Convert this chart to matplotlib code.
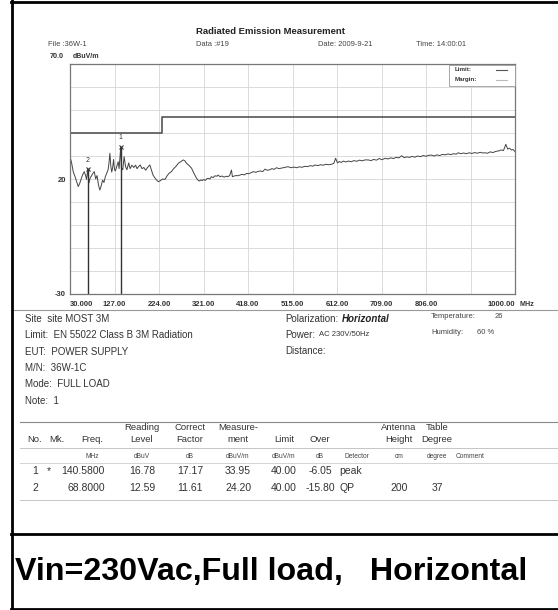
import matplotlib
matplotlib.use("Agg")
import matplotlib.pyplot as plt

plt.rcParams["font.family"] = ["Liberation Sans", "DejaVu Sans"]

W, H = 558, 610

# spectrum trace (MHz, dBuV/m)
freq = [30, 33, 37, 41, 45, 48, 51, 55, 58, 61, 64, 66, 68.8, 70, 71.5, 74, 77, 80, 83, 86,
        89, 92, 95, 98, 101, 104, 107, 110, 113, 115, 117, 119, 121, 123, 125, 127, 129, 132,
        135, 137, 140.58, 142, 145, 148, 151, 154, 158, 161, 165, 169, 173, 176, 180, 183, 187,
        191, 195, 199, 204, 208, 211, 215, 219, 222.5, 227, 232, 237, 242, 246, 251, 256, 261,
        266, 271, 277, 281, 284, 289, 295, 300, 306, 309, 312, 315, 318, 321, 325, 328, 331,
        335, 338, 342, 346, 350, 353, 357, 361, 366, 370, 374, 378, 382, 384, 388, 392, 396,
        400, 405, 410, 415, 420, 425, 430, 435, 440, 445, 450, 455, 460, 465, 470, 475, 480,
        486, 492, 498, 503, 506, 512, 518, 524, 530, 536, 542, 548, 554, 560, 564, 570, 576,
        582, 588, 594, 600, 605, 609, 613, 617, 621, 626, 631, 637, 643, 649, 655, 661, 667,
        673, 680, 686, 692, 698, 704, 710, 717, 723, 729, 735, 741, 747, 753, 758, 764, 770,
        776, 782, 788, 794, 800, 806, 812, 818, 824, 830, 836, 842, 848, 854, 860, 866, 872,
        876, 882, 888, 894, 900, 906, 912, 918, 924, 930, 934, 940, 946, 952, 958, 964, 970,
        975, 980, 984, 988, 992, 996, 1000]
level = [29.7, 27.5, 23.2, 21.0, 18.5, 16.7, 18.0, 20.4, 22.0, 23.2, 21.5, 19.8, 24.2, 21.0,
         18.3, 20.5, 21.4, 22.5, 23.2, 20.0, 21.5, 17.5, 15.2, 17.0, 19.5, 18.5, 21.0, 22.5,
         24.0, 27.0, 31.2, 25.5, 23.0, 25.0, 28.5, 24.0, 23.5, 25.5, 27.5, 24.5, 33.95, 25.0,
         24.0, 29.7, 25.5, 24.0, 27.0, 24.5, 26.0, 25.0, 26.0, 24.5, 25.5, 26.1, 24.5, 25.0,
         23.8, 25.0, 26.1, 23.5, 21.7, 20.5, 19.5, 18.8, 19.3, 20.0, 19.8, 21.5, 22.5, 23.2,
         24.5, 25.5, 26.8, 27.5, 28.3, 27.8, 26.8, 26.0, 24.7, 22.5, 20.3, 19.5, 19.1, 19.6,
         19.3, 19.8, 19.4, 20.1, 20.3, 20.0, 21.0, 20.6, 21.4, 21.2, 21.7, 21.0, 21.3, 20.8,
         21.2, 21.0, 21.5, 23.9, 21.0, 21.3, 21.5, 21.4, 21.7, 22.0, 21.8, 22.4, 22.3, 22.8,
         23.2, 22.9, 23.3, 23.5, 23.2, 24.3, 23.8, 24.0, 24.5, 24.2, 24.9, 24.5, 24.8, 25.0,
         25.3, 25.3, 24.9, 25.2, 24.9, 25.3, 25.1, 25.5, 25.4, 25.8, 25.6, 26.1, 25.8, 26.2,
         26.0, 26.4, 26.2, 26.4, 26.8, 29.0, 27.0, 27.6, 27.2, 27.8, 27.4, 27.8, 27.5, 28.0,
         27.7, 28.2, 27.9, 28.3, 28.3, 28.0, 28.5, 28.2, 28.9, 28.4, 29.0, 28.7, 29.2, 28.9,
         29.4, 29.2, 30.1, 29.3, 29.6, 29.4, 29.8, 29.5, 30.0, 29.7, 30.2, 29.9, 30.3, 30.4,
         30.0, 30.5, 30.2, 30.7, 30.5, 30.9, 30.6, 31.0, 30.8, 31.4, 31.0, 31.3, 31.0, 31.4,
         31.1, 31.5, 31.2, 31.6, 31.3, 31.4, 31.2, 31.8, 31.5, 32.0, 32.2, 32.6, 32.4, 35.1,
         33.0, 33.4, 32.6, 32.8, 31.9]

# EN 55022 class B 3 m limit
limit_freq = [30, 230, 230, 1000]
limit_level = [40, 40, 47, 47]

# markers
mk_no = ["1", "2"]
mk_freq = [140.58, 68.80]
mk_level = [33.95, 24.20]

x_ticks = [30, 127, 224, 321, 418, 515, 612, 709, 806, 903, 1000]
x_labels = ["30.000", "127.00", "224.00", "321.00", "418.00", "515.00", "612.00",
            "709.00", "806.00", "", "1000.00"]
y_ticks = [-30, -20, -10, 0, 10, 20, 30, 40, 50, 60, 70]
y_labels = ["-30", "", "", "", "", "20", "", "", "", "", ""]

# report info
info_left = ["Site  site MOST 3M", "Limit:  EN 55022 Class B 3M Radiation", "EUT:  POWER SUPPLY",
             "M/N:  36W-1C", "Mode:  FULL LOAD", "Note:  1"]

hdr_top = ["", "", "", "Reading", "Correct", "Measure-", "", "", "", "Antenna", "Table", ""]
hdr_mid = ["No.", "Mk.", "Freq.", "Level", "Factor", "ment", "Limit", "Over", "", "Height",
           "Degree", ""]
hdr_unit = ["", "", "MHz", "dBuV", "dB", "dBuV/m", "dBuV/m", "dB", "Detector", "cm",
            "degree", "Comment"]
row1 = ["1", "*", "140.5800", "16.78", "17.17", "33.95", "40.00", "-6.05", "peak", "", "", ""]
row2 = ["2", "", "68.8000", "12.59", "11.61", "24.20", "40.00", "-15.80", "QP", "200", "37", ""]

fig = plt.figure(figsize=(W / 100, H / 100), dpi=100)
fig.patch.set_facecolor("white")

# chart
ax = fig.add_axes([70 / W, 1 - 294 / H, 445 / W, 230 / H])
ax.set_xlim(30, 1000)
ax.set_ylim(-30, 70)
ax.set_xticks(x_ticks)
ax.set_xticklabels(x_labels, fontsize=5.5, fontweight="bold", color="#333")
ax.set_yticks(y_ticks)
ax.set_yticklabels(y_labels, fontsize=5.5, fontweight="bold", color="#333")
tl = ax.get_xticklabels()
tl[0].set_ha("left")
tl[-1].set_ha("right")
ax.tick_params(axis="x", length=0, pad=5)
ax.tick_params(axis="y", length=0, pad=3)
ax.grid(color="#d6d6d6", lw=0.6)
for s in ax.spines.values():
    s.set_color("#777")
    s.set_linewidth(0.9)

ax.plot(limit_freq, limit_level, color="#555", lw=1.2)
ax.plot(freq, level, color="#444", lw=0.7)
ax.vlines(mk_freq, -30, mk_level, color="#333", lw=1.0)
ax.plot(mk_freq, mk_level, "x", color="#333", ms=3, mew=0.8)
for n, f, v in zip(mk_no, mk_freq, mk_level):
    ax.annotate(n, (f, v), xytext=(0, 4), textcoords="offset points",
                ha="center", va="bottom", fontsize=5, color="#333")

# overlay in pixel coordinates for the report page
ov = fig.add_axes([0, 0, 1, 1], zorder=3)
ov.set_xlim(0, W)
ov.set_ylim(H, 0)
ov.axis("off")

# legend box inside the chart
ov.add_patch(plt.Rectangle((449, 64.5), 66, 21.5, facecolor="white", edgecolor="#999", lw=0.6))
ov.text(455, 69.5, "Limit:", fontsize=4.5, fontweight="bold", va="center", color="#333")
ov.plot([496, 507], [69.5, 69.5], color="#555", lw=0.8)
ov.text(455, 80, "Margin:", fontsize=4.5, fontweight="bold", va="center", color="#333")
ov.plot([496, 507], [80, 80], color="#bbb", lw=0.8)

# page header
ov.text(271, 32, "Radiated Emission Measurement", fontsize=6.8, fontweight="bold", ha="center",
        va="center", color="#222")
ov.text(48, 44, "File :36W-1", fontsize=5.4, va="center", color="#444")
ov.text(196, 44, "Data :#19", fontsize=5.4, va="center", color="#444")
ov.text(318, 44, "Date: 2009-9-21", fontsize=5.4, va="center", color="#444")
ov.text(416, 44, "Time: 14:00:01", fontsize=5.4, va="center", color="#444")
ov.text(64, 56, "70.0", fontsize=5.2, fontweight="bold", ha="right", va="center", color="#333")
ov.text(73, 56, "dBuV/m", fontsize=5, fontweight="bold", va="center", color="#333")
ov.text(520, 305, "MHz", fontsize=5.2, fontweight="bold", va="center", color="#333")

# info block
ov.plot([11, W], [310, 310], color="#999", lw=0.8)
for i, s in enumerate(info_left):
    ov.text(25, 319 + i * 16.3, s, fontsize=7, va="center", color="#333")
ov.text(285, 319, "Polarization:", fontsize=7, va="center", color="#333")
ov.text(342, 319, "Horizontal", fontsize=7, fontweight="bold", style="italic", va="center", color="#222")
ov.text(285, 335, "Power:", fontsize=7, va="center", color="#333")
ov.text(319, 334, "AC 230V/50Hz", fontsize=5.5, va="center", color="#333")
ov.text(285, 351, "Distance:", fontsize=7, va="center", color="#333")
ov.text(431, 317, "Temperature:", fontsize=5.5, va="center", color="#444")
ov.text(495, 317, "26", fontsize=5.5, va="center", color="#444")
ov.text(431, 333, "Humidity:", fontsize=5.5, va="center", color="#444")
ov.text(477, 333, "60 %", fontsize=5.5, va="center", color="#444")

# result table
col_x = [35, 57, 92, 142, 190, 238, 284, 320, 357, 399, 437, 470]
ov.plot([20, W], [422, 422], color="#888", lw=0.8)
ov.plot([20, W], [448, 448], color="#bbb", lw=0.6)
ov.plot([20, W], [463, 463], color="#ccc", lw=0.6)
ov.plot([20, W], [500, 500], color="#bbb", lw=0.6)
for x, t, m, u in zip(col_x, hdr_top, hdr_mid, hdr_unit):
    ov.text(x, 428, t, fontsize=6.8, ha="center", va="center", color="#333")
    ov.text(x, 440, m, fontsize=6.8, ha="center", va="center", color="#333")
    ov.text(x, 456, u, fontsize=4.8, ha="center", va="center", color="#444")
for y, row in ((471, row1), (488, row2)):
    for j, (x, v) in enumerate(zip(col_x, row)):
        if j == 1:
            ov.text(49, y, v, fontsize=7.5, ha="center", va="center", color="#333")
        elif j == 2:
            ov.text(105, y, v, fontsize=7.5, ha="right", va="center", color="#333")
        elif j == 8:
            ov.text(339, y, v, fontsize=7.5, ha="left", va="center", color="#333")
        else:
            ov.text(x, y, v, fontsize=7.5, ha="center", va="center", color="#333")

# page frame and caption
ov.plot([11.5, 11.5], [0, H], color="black", lw=2)
ov.plot([11, W], [1.5, 1.5], color="black", lw=2)
ov.plot([11, W], [534, 534], color="black", lw=2)
ov.plot([11, W], [608.5, 608.5], color="black", lw=2)
ov.text(15, 572, "Vin=230Vac,Full load,   Horizontal", fontsize=23.2, fontweight="bold",
        va="center", color="black")

fig.savefig("out.png", dpi=100, facecolor="white")
